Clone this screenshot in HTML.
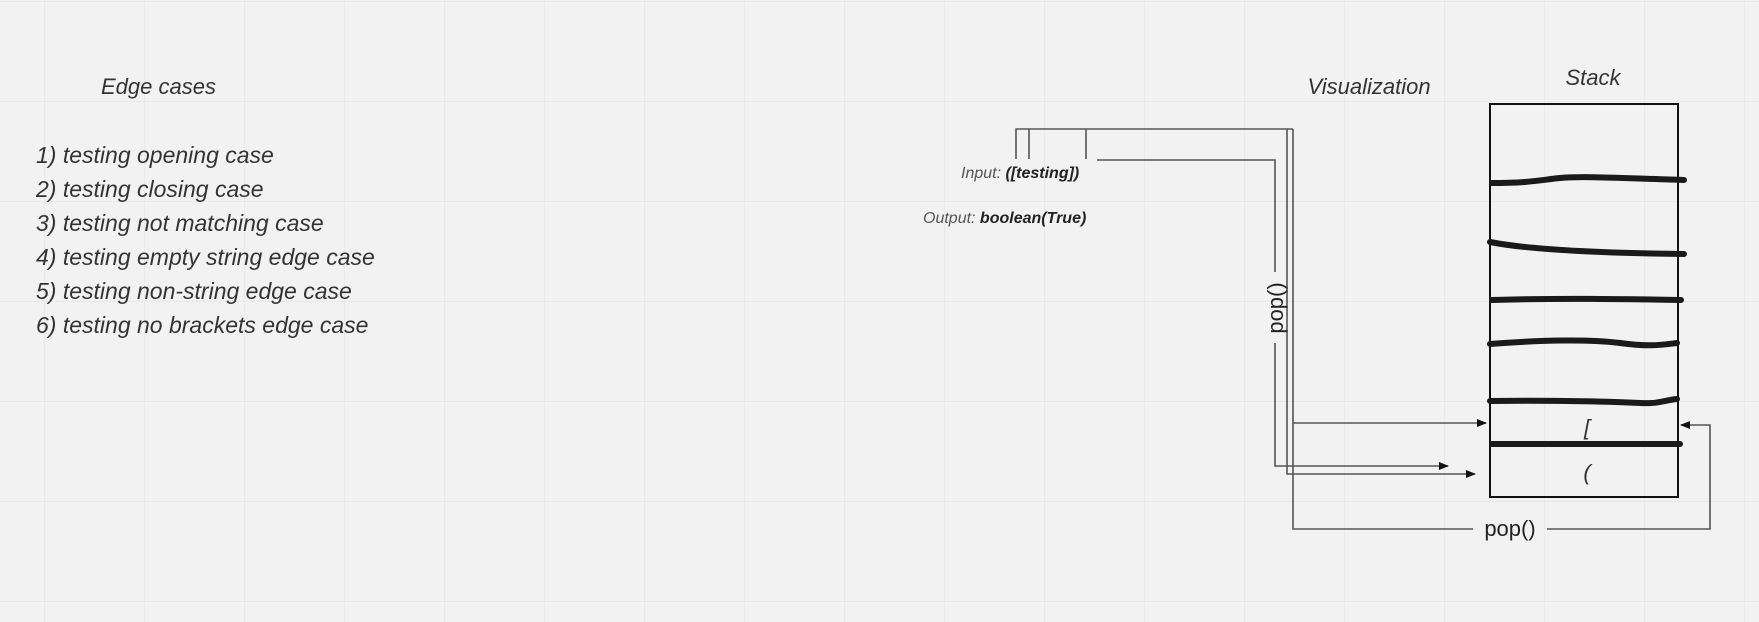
<!DOCTYPE html>
<html><head><meta charset="utf-8"><style>
html,body{margin:0;padding:0;background:#f2f2f2;}
svg{display:block;}
text{font-family:"Liberation Sans",sans-serif;}
</style></head><body>
<svg width="1759" height="622" viewBox="0 0 1759 622" xmlns="http://www.w3.org/2000/svg">
<defs>
<pattern id="g" x="44" y="1" width="100" height="100" patternUnits="userSpaceOnUse">
<path d="M0 0H100M0 0V100" stroke="#e3e3e3" stroke-width="1.2" fill="none"/>
</pattern>
<marker id="a" markerWidth="10" markerHeight="8" refX="9" refY="4" orient="auto" markerUnits="userSpaceOnUse">
<path d="M0 0L10 4L0 8Z" fill="#111"/>
</marker>
</defs>
<rect width="1759" height="622" fill="url(#g)"/>

<g font-style="italic" fill="#333">
<text x="101" y="94" font-size="22">Edge cases</text>
<g font-size="23">
<text x="36" y="163">1) testing opening case</text>
<text x="36" y="197">2) testing closing case</text>
<text x="36" y="231">3) testing not matching case</text>
<text x="36" y="265">4) testing empty string edge case</text>
<text x="36" y="299">5) testing non-string edge case</text>
<text x="36" y="333">6) testing no brackets edge case</text>
</g>
<text x="1369" y="94" font-size="22" text-anchor="middle">Visualization</text>
<text x="1593" y="85" font-size="22" text-anchor="middle">Stack</text>
<text x="961" y="178" font-size="16" fill="#555">Input: <tspan font-weight="bold" fill="#222">([testing])</tspan></text>
<text x="923" y="223" font-size="16" fill="#555">Output: <tspan font-weight="bold" fill="#222">boolean(True)</tspan></text>
<text x="1587" y="435" font-size="22" text-anchor="middle">[</text>
<text x="1587" y="480" font-size="22" text-anchor="middle">(</text>
</g>

<rect x="1490" y="104" width="188" height="393" fill="none" stroke="#111" stroke-width="2"/>
<g stroke="#1a1a1a" stroke-width="6" stroke-linecap="round" fill="none">
<path d="M1492 183C1530 183 1540 180 1560 178S1620 178 1684 180"/>
<path d="M1490 242C1530 250 1600 253 1684 254"/>
<path d="M1492 300C1560 298 1620 299 1681 300"/>
<path d="M1490 344C1540 340 1590 339 1620 343S1660 345 1677 343"/>
<path d="M1490 401C1560 400 1620 402 1640 403S1665 400 1677 399"/>
<path d="M1492 444H1680"/>
</g>

<g stroke="#555" stroke-width="1.6" fill="none">
<path d="M1016 159V129H1293"/>
<path d="M1029 159V129"/>
<path d="M1086 159V129"/>
<path d="M1097 160H1275V272"/>
<path d="M1275 343V466H1448" marker-end="url(#a)"/>
<path d="M1287 129V474H1475" marker-end="url(#a)"/>
<path d="M1293 129V423H1486" marker-end="url(#a)"/>
<path d="M1293 423V529H1473"/>
<path d="M1547 529H1710V425H1681" marker-end="url(#a)"/>
</g>
<text x="0" y="0" font-size="22" fill="#222" text-anchor="middle" transform="translate(1283 308) rotate(-90)">pop()</text>
<text x="1510" y="536" font-size="22" fill="#222" text-anchor="middle">pop()</text>
</svg>
</body></html>
